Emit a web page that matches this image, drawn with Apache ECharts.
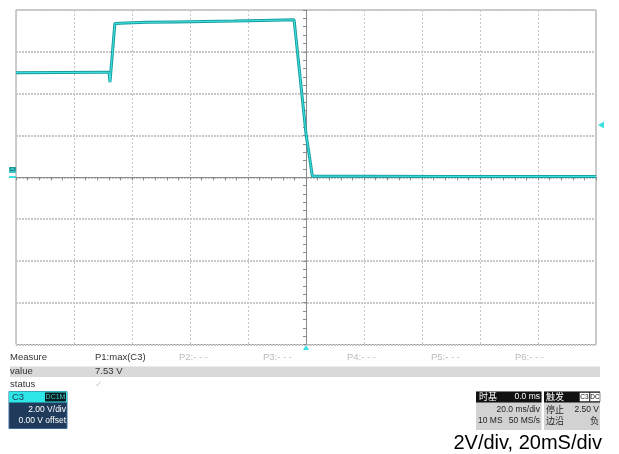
<!DOCTYPE html>
<html>
<head>
<meta charset="utf-8">
<script src="https://cdn.jsdelivr.net/npm/echarts@6/dist/echarts.min.js"></script>
<style>html,body{margin:0;padding:0;background:#fff;}#c{width:619px;height:454px;}</style>
</head>
<body>
<div id="c"></div>
<script>
// Time (ms) and voltage (V)
var timeMs = [-100, -85, -70, -67.9, -67.6, -67.3, -65.9, -62, -55, -45, -35, -25, -15, -8, -4.1, 0, 2.2, 20, 50, 100];
var volts  = [5.0, 5.01, 5.02, 5.02, 4.55, 4.6, 7.36, 7.38, 7.41, 7.43, 7.45, 7.47, 7.5, 7.52, 7.53, 2.08, 0.05, 0.05, 0.04, 0.04];
var xMin = -100, xMax = 100, xStep = 20;   // 20 ms/div
var yMin = -8, yMax = 8, yStep = 2;        // 2 V/div
var triggerLevel = 2.5, triggerTime = 0;
var measureHeads = ['P1:max(C3)', 'P2:- - -', 'P3:- - -', 'P4:- - -', 'P5:- - -', 'P6:- - -'];
var measureValue = '7.53 V';

var pts = timeMs.map(function (t, i) { return [t, volts[i]]; });
var chart = echarts.init(document.getElementById('c'));
var FN = "'Liberation Sans',Arial,sans-serif";
var CJK = "'Noto Sans CJK SC',sans-serif";

function axisOf(min, max, step, splitStyle) {
  return {
    type: 'value', min: min, max: max, interval: step,
    axisLine: { show: true, onZero: true, lineStyle: { color: '#8a8a8a', width: 1 } },
    axisTick: { show: true, inside: false, length: 3, lineStyle: { color: '#8a8a8a', width: 1 } },
    minorTick: { show: true, splitNumber: 5, length: 3, lineStyle: { color: '#8a8a8a', width: 1 } },
    axisLabel: { show: false },
    splitLine: { show: true, lineStyle: splitStyle }
  };
}
function innerTicks(min, max, step) {
  return {
    type: 'value', min: min, max: max, interval: step,
    axisLine: { show: false, onZero: true },
    axisTick: { show: true, inside: true, length: 3, lineStyle: { color: '#8a8a8a', width: 1 } },
    minorTick: { show: true, splitNumber: 5, length: 3, lineStyle: { color: '#8a8a8a', width: 1 } },
    axisLabel: { show: false },
    splitLine: { show: false }
  };
}

var headTexts = measureHeads.map(function (s, i) {
  return { type: 'text', x: 95 + i * 84, y: 357.5, style: { text: s, font: '9.5px ' + FN, fill: i === 0 ? '#333' : '#bbb', verticalAlign: 'middle' } };
});

function t(x, y, s, opt) {
  opt = opt || {};
  return { type: 'text', x: x, y: y, style: { text: s, font: (opt.size || 9) + 'px ' + (opt.font || FN), fill: opt.fill || '#222', align: opt.align || 'left', verticalAlign: 'middle' } };
}

var gfx = [
  // C3 channel marker at left
  { type: 'rect', shape: { x: 9, y: 167, width: 7, height: 6 }, style: { fill: '#3cc8c8' } },
  { type: 'text', x: 9.5, y: 167.5, style: { text: 'C3', font: '5px ' + FN, fill: '#0c4040' } },
  { type: 'line', shape: { x1: 9, y1: 177, x2: 16, y2: 177 }, style: { stroke: '#3ce0e0', lineWidth: 2 } },
  // measure table
  { type: 'rect', shape: { x: 10, y: 366.5, width: 590, height: 10.5 }, style: { fill: '#d9d9d9' } },
  t(10, 357.5, 'Measure', { size: 9.5, fill: '#333' }),
  t(10, 371.5, 'value', { size: 9.5, fill: '#333' }),
  t(95, 371.5, measureValue, { size: 9.5, fill: '#333' }),
  t(10, 384.5, 'status', { size: 9.5, fill: '#333' }),
  t(95, 384.5, '\u2713', { size: 9, fill: '#ccc' }),
  // C3 box
  { type: 'rect', shape: { x: 9, y: 391.5, width: 58, height: 37 }, style: { fill: '#1f3a5a', stroke: '#3a6c9c', lineWidth: 1 } },
  { type: 'rect', shape: { x: 9, y: 391.5, width: 58, height: 11 }, style: { fill: '#2ee6e6' } },
  t(12, 397, 'C3', { size: 9.5, fill: '#1a3a5a' }),
  { type: 'rect', shape: { x: 45, y: 392.5, width: 21, height: 9 }, style: { fill: '#0b1a22' } },
  t(55.5, 397, 'DC1M', { size: 7, fill: '#3ad0c0', align: 'center' }),
  t(66, 409.5, '2.00 V/div', { size: 8.5, fill: '#fff', align: 'right' }),
  t(66, 421, '0.00 V offset', { size: 8.5, fill: '#fff', align: 'right' }),
  // timebase box
  { type: 'rect', shape: { x: 476, y: 391.5, width: 65.5, height: 38.5 }, style: { fill: '#d2d2d2' } },
  { type: 'rect', shape: { x: 476, y: 391.5, width: 65.5, height: 11 }, style: { fill: '#111' } },
  t(479, 397, '时基', { size: 9, font: CJK, fill: '#fff' }),
  t(540, 397, '0.0 ms', { size: 8.5, fill: '#fff', align: 'right' }),
  t(540, 409.5, '20.0 ms/div', { size: 8.5, align: 'right' }),
  t(478, 421, '10 MS', { size: 8.5 }),
  t(540, 421, '50 MS/s', { size: 8.5, align: 'right' }),
  // trigger box
  { type: 'rect', shape: { x: 544, y: 391.5, width: 56, height: 38.5 }, style: { fill: '#d2d2d2' } },
  { type: 'rect', shape: { x: 544, y: 391.5, width: 56, height: 11 }, style: { fill: '#111' } },
  t(546, 397, '触发', { size: 9, font: CJK, fill: '#fff' }),
  { type: 'rect', shape: { x: 579.5, y: 392.5, width: 10, height: 9 }, style: { fill: '#fff', stroke: '#111', lineWidth: 0.5 } },
  t(584.5, 397, 'C3', { size: 6.5, fill: '#111', align: 'center' }),
  { type: 'rect', shape: { x: 590, y: 392.5, width: 10, height: 9 }, style: { fill: '#fff', stroke: '#111', lineWidth: 0.5 } },
  t(595, 397, 'DC', { size: 6.5, fill: '#111', align: 'center' }),
  t(546, 409.5, '停止', { size: 9, font: CJK }),
  t(599, 409.5, '2.50 V', { size: 8.5, align: 'right' }),
  t(546, 421, '边沿', { size: 9, font: CJK }),
  t(599, 421, '负', { size: 9, font: CJK, align: 'right' }),
  // caption
  { type: 'text', x: 602, y: 443.5, style: { text: '2V/div, 20mS/div', font: "20px 'Liberation Sans',Arial,sans-serif", fill: '#000', align: 'right', verticalAlign: 'middle' } }
].concat(headTexts);

chart.setOption({
  animation: false,
  backgroundColor: '#fff',
  grid: { left: 16, top: 10, right: 23, bottom: 109.5, show: true, borderColor: '#999', borderWidth: 1, containLabel: false },
  xAxis: [axisOf(xMin, xMax, xStep, { color: '#c6c6c6', type: [2, 2], width: 1 }), innerTicks(xMin, xMax, xStep)],
  yAxis: [axisOf(yMin, yMax, yStep, { color: '#c8c8c8', type: [2, 1], width: 2 }), innerTicks(yMin, yMax, yStep)],
  series: [
    {
      type: 'line', data: pts, showSymbol: false, symbol: 'none', z: 5,
      lineStyle: { color: '#1a9c9c', width: 3 },
      markPoint: {
        symbol: 'triangle', silent: true, label: { show: false },
        data: [
          { coord: [xMax, triggerLevel], symbolSize: [7, 6], symbolRotate: 90, symbolOffset: [5, 0], itemStyle: { color: '#3ce0e0' } },
          { coord: [triggerTime, yMin], symbolSize: [6, 5], symbolOffset: [0, 3], itemStyle: { color: '#3ce0e0' } }
        ]
      }
    },
    {
      type: 'line', data: pts, showSymbol: false, symbol: 'none', z: 6,
      lineStyle: { color: '#40e6e6', width: 1 }
    }
  ],
  graphic: gfx
});
</script>
</body>
</html>
